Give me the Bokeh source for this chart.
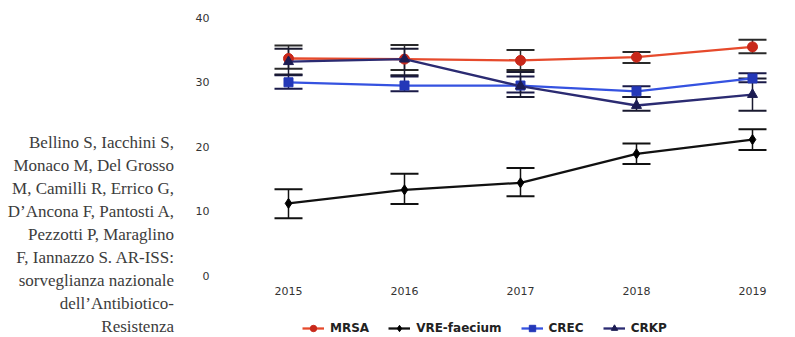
from bokeh.plotting import figure
from bokeh.models import (Range1d, FixedTicker, Whisker, TeeHead, ColumnDataSource,
                          Legend, LegendItem, Div)
from bokeh.layouts import row, column
from bokeh.embed import file_html
from bokeh.resources import INLINE

years = [2015, 2016, 2017, 2018, 2019]

mrsa = [33.7, 33.6, 33.4, 33.9, 35.5]
mrsa_lo = [32.1, 31.9, 31.9, 33.0, 34.5]
mrsa_hi = [35.7, 35.8, 35.0, 34.7, 36.6]

vre = [11.2, 13.3, 14.4, 18.9, 21.1]
vre_lo = [8.9, 11.1, 12.3, 17.3, 19.5]
vre_hi = [13.4, 15.8, 16.7, 20.5, 22.7]

crec = [30.0, 29.5, 29.5, 28.6, 30.6]
crec_lo = [29.0, 28.6, 28.4, 27.7, 30.0]
crec_hi = [31.1, 30.9, 30.9, 29.4, 31.4]

crkp = [33.2, 33.6, 29.4, 26.4, 28.1]
crkp_lo = [31.2, 31.1, 27.7, 25.6, 25.6]
crkp_hi = [35.2, 35.2, 31.6, 27.7, 30.6]

y_ticks = [0, 10, 20, 30, 40]

citation_lines = [
    "Bellino S, Iacchini S,",
    "Monaco M, Del Grosso",
    "M, Camilli R, Errico G,",
    "D\u2019Ancona F, Pantosti A,",
    "Pezzotti P, Maraglino",
    "F, Iannazzo S. AR-ISS:",
    "sorveglianza nazionale",
    "dell\u2019Antibiotico-",
    "Resistenza",
]

LW = 180
MW = 779 - LW
MH = 301
LGH = 35
H = MH + LGH

# ---------- left citation ----------
cit_html = ('<div style="font-family:\'Liberation Serif\',serif;font-size:17px;'
            'line-height:23px;text-align:right;color:#3c3c3c;white-space:nowrap;'
            'width:174px;padding-top:131px;">'
            + "<br>".join(citation_lines) + '</div>')
left = Div(text=cit_html, width=LW, height=H, margin=(0, 0, 0, 0))

# ---------- main chart ----------
p = figure(width=MW, height=MH, output_backend="svg", toolbar_location=None,
           x_range=Range1d(2014.4138, 2019.2328), y_range=Range1d(-0.93, 41.15),
           min_border_left=40, min_border_right=0, min_border_top=10, min_border_bottom=20)
p.outline_line_color = None
p.grid.visible = False

for ax in (p.xaxis[0], p.yaxis[0]):
    ax.axis_line_color = None
    ax.major_tick_line_color = None
    ax.minor_tick_line_color = None
    ax.major_tick_out = 0
    ax.major_tick_in = 0
    ax.major_label_text_font = "DejaVu Sans"
    ax.major_label_text_font_size = "11px"
    ax.major_label_text_color = "#333333"
p.yaxis.ticker = FixedTicker(ticks=y_ticks)
p.yaxis.major_label_standoff = 11
p.xaxis.ticker = FixedTicker(ticks=years)
p.xaxis.major_label_standoff = 5

series = [
    ("MRSA", mrsa, mrsa_lo, mrsa_hi, "#e64a2c", "#c8281a", "circle", 10, "#2a2a2a"),
    ("VRE-faecium", vre, vre_lo, vre_hi, "#111111", "#000000", "diamond", 10, "#111111"),
    ("CREC", crec, crec_lo, crec_hi, "#3552e0", "#2438b8", "square", 9, "#1a1a48"),
    ("CRKP", crkp, crkp_lo, crkp_hi, "#2b2b72", "#1c1c52", "triangle", 10, "#1a1a30"),
]

# legend strip: a small figure below the chart; its frame is aligned with the chart frame
lg = figure(width=MW, height=LGH, output_backend="svg", toolbar_location=None,
            x_range=Range1d(0, 1), y_range=Range1d(0, 1), min_border=0,
            x_axis_location=None, y_axis_location=None)
lg.outline_line_color = None
lg.grid.visible = False

items = []
for name, vals, lo, hi, lcol, mcol, marker, msize, ecol in series:
    src = ColumnDataSource(dict(x=years, y=vals, lo=lo, hi=hi))
    w = Whisker(source=src, base="x", upper="hi", lower="lo", dimension="height",
                line_color=ecol, line_width=1.5,
                upper_head=TeeHead(size=28, line_color=ecol, line_width=2),
                lower_head=TeeHead(size=28, line_color=ecol, line_width=2))
    p.add_layout(w)
    p.line("x", "y", source=src, line_color=lcol, line_width=2.3)
    p.scatter("x", "y", source=src, marker=marker, size=msize,
              fill_color=mcol, line_color=mcol)
    # off-screen proxy point so the legend strip can draw the key glyph
    proxy = ColumnDataSource(dict(x=[5], y=[5]))
    lr = lg.line("x", "y", source=proxy, line_color=lcol, line_width=2.3)
    sr = lg.scatter("x", "y", source=proxy, marker=marker, size=msize,
                    fill_color=mcol, line_color=mcol)
    items.append(LegendItem(label=name, renderers=[lr, sr]))

legend = Legend(items=items, orientation="horizontal", location=(82, 0),
                border_line_color=None, background_fill_alpha=0,
                padding=0, margin=0, spacing=19, glyph_width=22, glyph_height=16,
                label_standoff=6, label_text_font="DejaVu Sans",
                label_text_font_style="bold", label_text_font_size="12px",
                label_text_color="#222222")
lg.add_layout(legend, "center")

layout = row(left, column(p, lg))
open("out.html", "w").write(file_html(layout, INLINE))
